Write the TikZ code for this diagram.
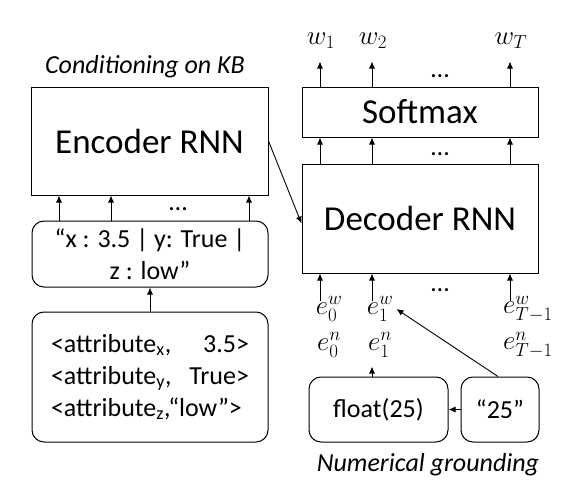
\RequirePackage{fix-cm}
\documentclass[tikz,border=0pt]{standalone}
\usepackage{fontspec}
\setmainfont{Carlito}
\usetikzlibrary{arrows.meta,positioning}

\begin{document}
\begin{tikzpicture}[x=1pt,y=-1pt,
        box/.style={draw,line width=1pt,inner sep=0pt},% plain block
        rbox/.style={box,rounded corners=12pt},% rounded block
        big/.style={font=\fontsize{35}{42}\selectfont},
        small/.style={font=\fontsize{26}{32}\selectfont},
        lbl/.style={font=\fontsize{27}{32}\selectfont,inner sep=0pt},% math labels
        arr/.style={-{Latex[length=7pt,width=6pt]},line width=0.9pt}]
\useasboundingbox (0,0) rectangle (582,498);

% left column: conditioning on the KB
\node[small] (kbtitle) at (145,67) {\itshape Conditioning on KB};
\node[box,big,minimum width=237pt,minimum height=108pt] (enc) at (149.5,141) {Encoder RNN};
\node[rbox,small,align=center,minimum width=236pt,minimum height=66pt] (kv) at (150,254) {“x : 3.5 | y: True |\\z : low”};
\node[rbox,small,align=left,text width=198pt,minimum width=236pt,minimum height=130pt] (attr) at (150,377)
  {<attribute\textsubscript{x},\hfill 3.5>\\<attribute\textsubscript{y},\hfill True>\\<attribute\textsubscript{z},“low”>};
\node[small] (encdots) at (178,209) {\dots};

\foreach \x [count=\i] in {59,111,249}{ % input columns of the encoder
\coordinate (ec\i) at (\x,0);
\draw[arr] (kv.north -| ec\i) -- (enc.south -| ec\i);
}
\draw[arr] (attr.north) -- (kv.south);

% right column: decoder
\node[box,big,minimum width=236pt,minimum height=50pt] (soft) at (420,112) {Softmax};
\node[box,big,minimum width=236pt,minimum height=109pt] (dec) at (420,218.5) {Decoder RNN};

\foreach \x [count=\i] in {320,372,510}{ % time steps
\coordinate (dc\i) at (\x,0);
\draw[arr] (soft.north -| dc\i) -- ++(0,-25);
\draw[arr] (dec.north -| dc\i) -- (soft.south -| dc\i);
\draw[arr] ([yshift=-27pt]dec.south -| dc\i) -- (dec.south -| dc\i);
}
\foreach \y in {76,154,290}{
\node[small] (ddots\y) at (440,\y) {\dots};
}

\node[lbl] (w1) at (321,41) {$w_1$};
\node[lbl] (w2) at (373,41) {$w_2$};
\node[lbl] (wT) at (511,41) {$w_T$};

\node[lbl] (ew0) at (329,309) {$e_0^w$};
\node[lbl] (en0) at (329,345) {$e_0^n$};
\node[lbl] (ew1) at (380,309) {$e_1^w$};
\node[lbl] (en1) at (380,345) {$e_1^n$};
\node[lbl] (ewT) at (528,309) {$e_{T-1}^w$};
\node[lbl] (enT) at (528,345) {$e_{T-1}^n$};

% numerical grounding
\node[rbox,small,minimum width=139pt,minimum height=65pt] (flt) at (378.5,409.5) {float(25)};
\node[rbox,small,minimum width=78pt,minimum height=65pt] (num) at (500,409.5) {“25”};
\node[small] (ngtitle) at (428,465) {\itshape Numerical grounding};

\draw[arr] (num.west) -- (flt.east);
\draw[arr] (flt.north -| dc2) -- ++(0,-10);
\draw[arr] ([xshift=-2pt]num.north) -- ([xshift=3pt]ew1.east);
\draw[arr] (enc.east) -- ([yshift=-5pt]dec.west);
\end{tikzpicture}
\end{document}
